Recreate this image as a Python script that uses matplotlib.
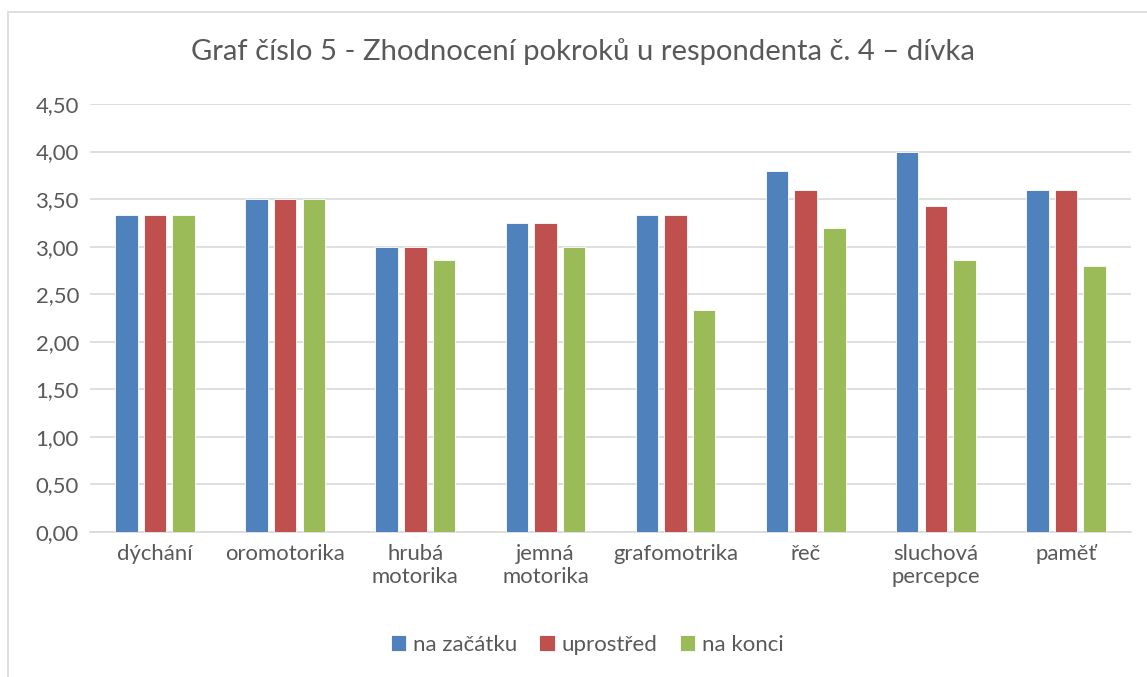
import matplotlib
matplotlib.use("Agg")
import matplotlib.pyplot as plt
import numpy as np
from matplotlib.ticker import FuncFormatter
from matplotlib.patches import Rectangle

plt.rcParams['font.family'] = ['Lato', 'DejaVu Sans']

categories = ["dýchání", "oromotorika", "hrubá\nmotorika", "jemná\nmotorika",
              "grafomotrika", "řeč", "sluchová\npercepce", "paměť"]
na_zacatku = [3.33, 3.50, 3.00, 3.25, 3.33, 3.80, 4.00, 3.60]
uprostred = [3.33, 3.50, 3.00, 3.25, 3.33, 3.60, 3.43, 3.60]
na_konci = [3.33, 3.50, 2.86, 3.00, 2.33, 3.20, 2.86, 2.80]
series_names = ["na začátku", "uprostřed", "na konci"]
colors = ["#4F81BD", "#C0504D", "#9BBB59"]
title = "Graf číslo 5 - Zhodnocení pokroků u respondenta č. 4 – dívka"

W, H = 1147, 677
fig = plt.figure(figsize=(W/100, H/100), dpi=100)
fig.patch.set_facecolor("white")
renderer = fig.canvas.get_renderer()


def fit_size(text, target_px, base=12.0):
    t = fig.text(0, 0, text, fontsize=base)
    w = t.get_window_extent(renderer).width
    t.remove()
    return base * target_px / w


title_fs = fit_size(title, 780)
tick_fs = fit_size("oromotorika", 120)
leg_fs = fit_size("uprostřed", 95)

# outer chart border
fig.patches.append(Rectangle((8/W, -0.1), 1.2, (H - 12)/H + 0.1, transform=fig.transFigure,
                             fill=False, edgecolor="#D9D9D9", linewidth=1.2))

ax = fig.add_axes([90/W, 1 - 532/H, (1131 - 90)/W, (532 - 104)/H])
x = np.arange(len(categories))
pitch = 0.22
width = 0.173
for i, (vals, c, name) in enumerate(zip([na_zacatku, uprostred, na_konci], colors, series_names)):
    ax.bar(x + (i - 1) * pitch, vals, width=width, color=c, label=name, zorder=3,
           edgecolor="white", linewidth=0.6)

ax.set_xlim(-0.5, len(categories) - 0.5)
ax.set_ylim(0, 4.5)
ax.set_yticks(np.arange(0, 4.51, 0.5))
ax.yaxis.set_major_formatter(FuncFormatter(lambda v, p: f"{v:.2f}".replace(".", ",")))
ax.set_xticks(x)
ax.set_xticklabels(categories, linespacing=1.15)
ax.grid(axis="y", color="#D9D9D9", linewidth=1.2, zorder=0)
for s in ["top", "right", "left"]:
    ax.spines[s].set_visible(False)
ax.spines["bottom"].set_color("#D9D9D9")
ax.spines["bottom"].set_linewidth(1.2)
ax.tick_params(axis="both", length=0, labelsize=tick_fs, colors="#595959")
ax.tick_params(axis="x", pad=9)
ax.tick_params(axis="y", pad=8)

fig.text(583/W, 1 - 52/H, title, ha="center", va="center", fontsize=title_fs, color="#595959")

leg = fig.legend(loc="center", bbox_to_anchor=(587/W, 1 - 645/H), ncol=3, frameon=False,
                 fontsize=leg_fs, handlelength=0.7, handleheight=0.7, handletextpad=0.3,
                 columnspacing=1.0)
for t in leg.get_texts():
    t.set_color("#595959")

fig.savefig("out.png", dpi=100, facecolor="white")
